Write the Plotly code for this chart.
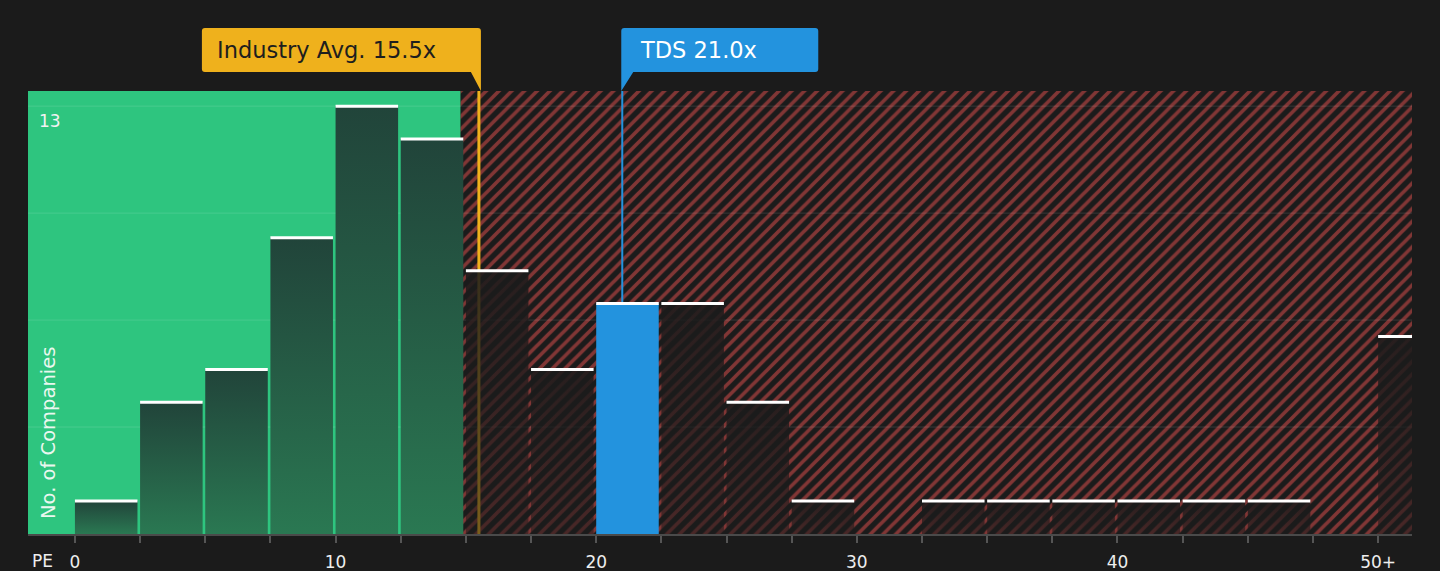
# PE ratio distribution vs industry average.

import plotly.graph_objects as go

# Data
bin_width = 2.5
bin_starts = [i * bin_width for i in range(21)]   # last bin is the 50+ bucket
company_counts = [1, 4, 5, 9, 13, 12, 8, 5, 7, 7, 4, 1, 0, 1, 1, 1, 1, 1, 1, 0, 6]
tick_values = [i * bin_width for i in range(21)]
tick_labels = ["0", "", "", "", "10", "", "", "", "20", "", "", "", "30", "", "", "", "40", "", "", "", "50+"]
industry_avg = 15.5
company_pe = 21.0
company_name = "TDS"
fair_upper = 14.8
y_max_count = 13

# Styles
BG = "#1b1b1b"
GREEN = "#2ec57f"
RED = "#e8524f"
ORANGE = "#efb11c"
BLUE = "#2393de"
FONT = "DejaVu Sans"

x_range = [-1.8, 51.3]
y_top = y_max_count + 0.46
bar_gap = 0.1

fig = go.Figure()

# hatched "overvalued" zone
fig.add_trace(go.Scatter(
    x=[fair_upper, x_range[1], x_range[1], fair_upper, fair_upper],
    y=[0, 0, y_top, y_top, 0],
    fill="toself", mode="lines", line=dict(width=0),
    fillcolor=BG,
    fillpattern=dict(shape="/", fgcolor=RED, bgcolor=BG, size=9, solidity=0.4),
    hoverinfo="skip"))

# grid lines
for g in [y_max_count * k / 4 for k in range(1, 5)]:
    fig.add_trace(go.Scatter(x=x_range, y=[g, g], mode="lines",
                             line=dict(color="rgba(255,255,255,0.12)", width=1),
                             hoverinfo="skip"))

# marker lines
fig.add_trace(go.Scatter(x=[industry_avg, industry_avg], y=[0, y_top], mode="lines",
                         line=dict(color=ORANGE, width=3), hoverinfo="skip"))

tds_count = company_counts[int(company_pe // bin_width)]
fig.add_trace(go.Scatter(x=[company_pe, company_pe], y=[tds_count, y_top], mode="lines",
                         line=dict(color=BLUE, width=2), hoverinfo="skip"))

# bars
for left, count in zip(bin_starts, company_counts):
    if count == 0:
        continue
    right = left + bin_width - bar_gap
    xs = [left, left, right, right, left]
    ys = [0, count, count, 0, 0]
    if left <= company_pe < left + bin_width:
        fig.add_trace(go.Scatter(x=xs, y=ys, fill="toself", mode="lines",
                                 line=dict(width=0), fillcolor=BLUE, hoverinfo="skip"))
    elif left < fair_upper:
        fig.add_trace(go.Scatter(x=xs, y=ys, fill="toself", mode="lines", line=dict(width=0),
                                 fillgradient=dict(type="vertical",
                                                   colorscale=[[0, "#2a7852"], [1, "#21443a"]]),
                                 hoverinfo="skip"))
    else:
        fig.add_trace(go.Scatter(x=xs, y=ys, fill="toself", mode="lines", line=dict(width=0),
                                 fillgradient=dict(type="vertical",
                                                   colorscale=[[0, "rgba(27,27,27,0.55)"],
                                                               [1, "rgba(27,27,27,0.88)"]]),
                                 hoverinfo="skip"))
    # white cap
    fig.add_trace(go.Scatter(x=[left, right], y=[count, count], mode="lines",
                             line=dict(color="white", width=3), hoverinfo="skip"))

# green "fair" zone
fig.add_shape(type="rect", xref="x", yref="y", x0=x_range[0], x1=fair_upper, y0=0, y1=y_top,
              fillcolor=GREEN, line=dict(width=0), layer="below")

# callouts
fig.add_shape(type="path", xref="x", yref="paper", xsizemode="pixel", ysizemode="pixel",
              xanchor=industry_avg, yanchor=1,
              path="M -274,63 H -1 Q 2,63 2,60 V 0 L -8,19 H -274 Q -277,19 -277,22 V 60 Q -277,63 -274,63 Z",
              fillcolor=ORANGE, line=dict(width=0), layer="above")
fig.add_annotation(x=industry_avg, xref="x", xanchor="left", xshift=-264,
                   y=1, yref="paper", yanchor="middle", yshift=41,
                   text=f"Industry Avg. {industry_avg:.1f}x", showarrow=False,
                   font=dict(family=FONT, size=22.5, color="#1e1e1e"))

fig.add_shape(type="path", xref="x", yref="paper", xsizemode="pixel", ysizemode="pixel",
              xanchor=company_pe, yanchor=1,
              path="M -1,0 V 60 Q -1,63 2,63 H 193 Q 196,63 196,60 V 22 Q 196,19 193,19 H 11 Z",
              fillcolor=BLUE, line=dict(width=0), layer="above")
fig.add_annotation(x=company_pe, xref="x", xanchor="left", xshift=16,
                   y=1, yref="paper", yanchor="middle", yshift=41,
                   text=f"{company_name} {company_pe:.1f}x", showarrow=False,
                   font=dict(family=FONT, size=22.5, color="white"))

# axis labels
fig.add_annotation(x=0, xref="paper", xanchor="left", xshift=9,
                   y=y_max_count, yref="y", yanchor="top", yshift=-3,
                   text=str(y_max_count), showarrow=False,
                   font=dict(family=FONT, size=17, color="#f2f2f2"))
fig.add_annotation(x=0, xref="paper", xanchor="center", xshift=20,
                   y=0, yref="y", yanchor="bottom", yshift=13,
                   text="No. of Companies", textangle=-90, showarrow=False,
                   font=dict(family=FONT, size=19.5, color="#eaf7ef"))
fig.add_annotation(x=0, xref="paper", xanchor="center", xshift=14,
                   y=0, yref="paper", yanchor="middle", yshift=-27,
                   text="PE", showarrow=False,
                   font=dict(family=FONT, size=17, color="#eeeeee"))

fig.update_layout(
    width=1440, height=571,
    margin=dict(l=28, r=28, t=91, b=37),
    paper_bgcolor=BG, plot_bgcolor=BG,
    showlegend=False,
    xaxis=dict(range=x_range, tickvals=tick_values, ticktext=tick_labels,
               ticks="outside", ticklen=7, tickwidth=1.5, tickcolor="#555555",
               ticklabelstandoff=5, automargin=False,
               showgrid=False, zeroline=False, showline=True, linecolor="#4a4a4a", linewidth=2,
               tickfont=dict(family=FONT, size=17, color="#eeeeee")),
    yaxis=dict(range=[0, y_top], showgrid=False, zeroline=False, showticklabels=False,
               automargin=False),
)

# page body has a default 8px margin; drop it so the figure fills the window
fig.write_html("out.html", config={"displayModeBar": False},
               post_script="document.body.style.margin='0';document.body.style.background='#1b1b1b';")
